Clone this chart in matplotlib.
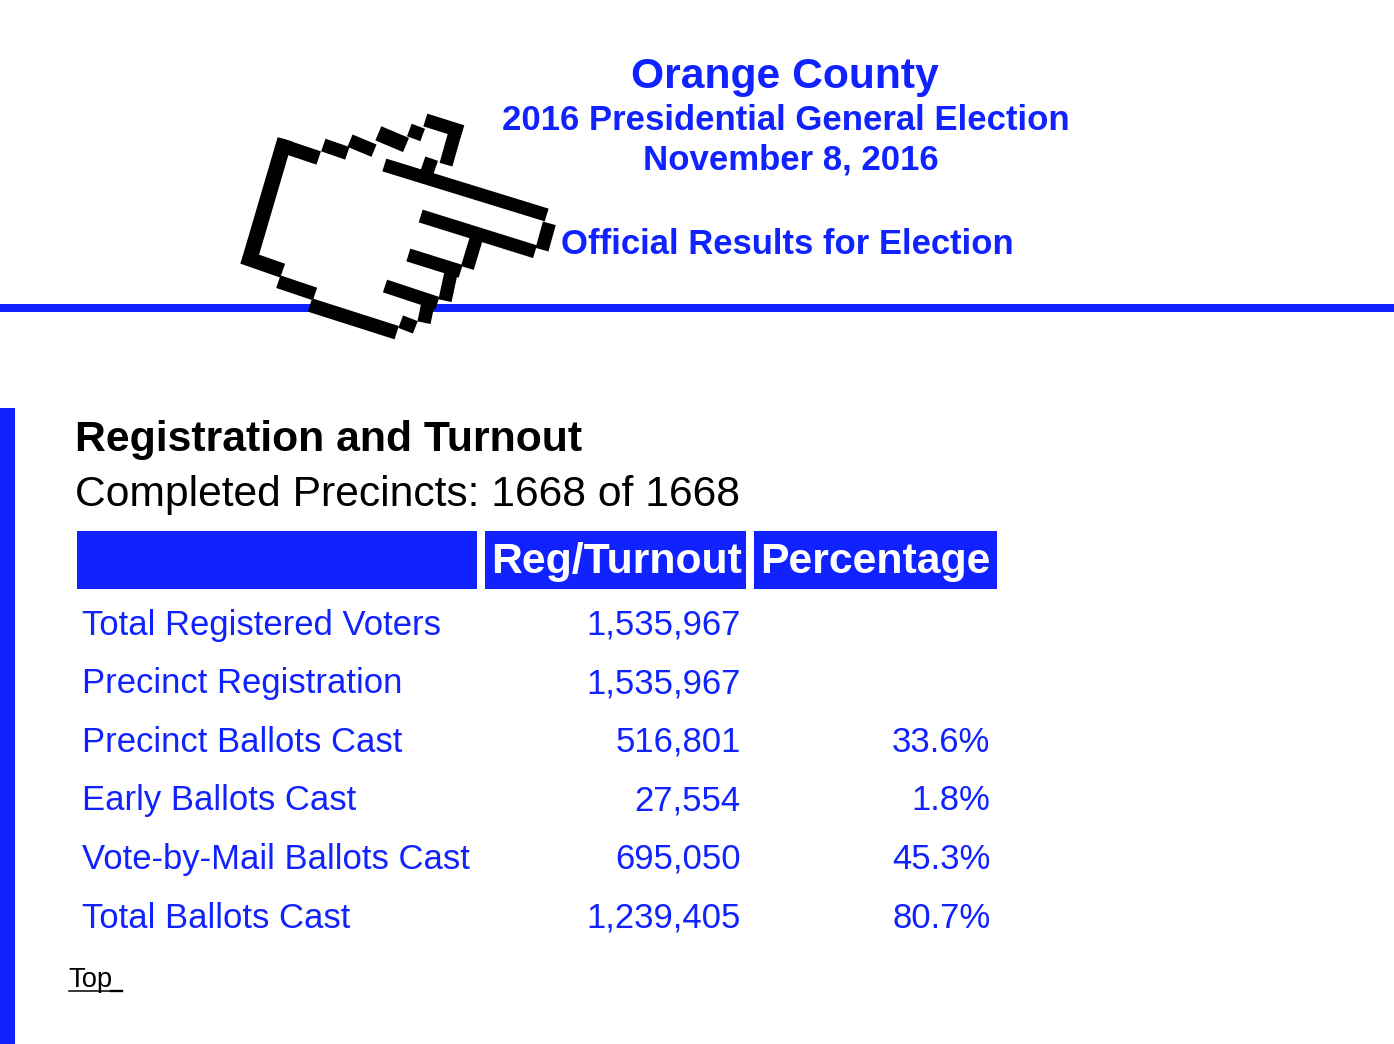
import matplotlib
matplotlib.use("Agg")
import matplotlib.pyplot as plt
from matplotlib.patches import Polygon, Rectangle

plt.rcParams["font.family"] = ["Liberation Sans", "DejaVu Sans"]

BLUE = "#1022FF"

row_labels = [
    "Total Registered Voters",
    "Precinct Registration",
    "Precinct Ballots Cast",
    "Early Ballots Cast",
    "Vote-by-Mail Ballots Cast",
    "Total Ballots Cast",
]
reg_turnout = ["1,535,967", "1,535,967", "516,801", "27,554", "695,050", "1,239,405"]
percentage = ["", "", "33.6%", "1.8%", "45.3%", "80.7%"]

# hand outline, coordinates taken from zoomed crop (crop px, offset added below)
hand_fill = [(160, 130), (280, 150), (450, 100), (590, 70), (680, 90), (640, 200),
             (950, 340), (960, 390), (920, 460), (750, 420), (650, 590), (620, 600), (600, 650),
             (490, 700), (245, 615), (150, 540), (50, 475)]
hand_lines = [
    ((150, 135), (266, 174), 42), ((165, 118), (58, 482), 46), ((38, 470), (158, 512), 44),
    ((145, 545), (255, 582), 40), ((240, 615), (500, 698), 42), ((512, 665), (556, 682), 40),
    ((598, 590), (582, 668), 40), ((465, 558), (622, 610), 40), ((668, 495), (645, 602), 40),
    ((535, 465), (692, 514), 40), ((738, 418), (712, 504), 40), ((572, 348), (915, 455), 40),
    ((958, 370), (936, 449), 40), ((463, 195), (950, 345), 40), ((605, 176), (588, 225), 40),
    ((680, 80), (648, 194), 40), ((586, 60), (697, 95), 40), ((538, 90), (578, 105), 40),
    ((445, 100), (528, 135), 46), ((360, 122), (432, 152), 40), ((280, 135), (352, 160), 40),
]


def to_px(pt):
    return 230 + pt[0] / 3, 100 + pt[1] / 3


fig = plt.figure(figsize=(13.94, 10.44), dpi=100)
ax = fig.add_axes([0, 0, 1, 1])
ax.set_xlim(0, 1394)
ax.set_ylim(1044, 0)
ax.axis("off")

# Header
ax.text(785, 77, "Orange County", color=BLUE, fontsize=30.7, fontweight="bold", ha="center", va="center")
ax.text(786, 120, "2016 Presidential General Election", color=BLUE, fontsize=25, fontweight="bold", ha="center", va="center")
ax.text(791, 160, "November 8, 2016", color=BLUE, fontsize=25, fontweight="bold", ha="center", va="center")
ax.text(561, 244, "Official Results for Election", color=BLUE, fontsize=24.9, fontweight="bold", ha="left", va="center")

ax.add_patch(Rectangle((0, 304), 1394, 8, color=BLUE, lw=0))
ax.add_patch(Rectangle((0, 408), 15, 636, color=BLUE, lw=0))

# Hand
ax.add_patch(Polygon([to_px(p) for p in hand_fill], closed=True, color="white", lw=0, zorder=3))
for a, b, w in hand_lines:
    xa, ya = to_px(a)
    xb, yb = to_px(b)
    ax.plot([xa, xb], [ya, yb], color="black", lw=w / 3 * 0.72, solid_capstyle="butt", zorder=4)

# Table
ax.text(75, 440, "Registration and Turnout", color="black", fontsize=30.75, fontweight="bold", ha="left", va="center")
ax.text(75, 495, "Completed Precincts: 1668 of 1668", color="black", fontsize=30.7, ha="left", va="center")

ax.add_patch(Rectangle((77, 531), 400, 58, color=BLUE, lw=0))
ax.add_patch(Rectangle((485, 531), 261, 58, color=BLUE, lw=0))
ax.add_patch(Rectangle((754, 531), 243, 58, color=BLUE, lw=0))
ax.text(491, 562, "Reg/Turnout", color="white", fontsize=30.75, fontweight="bold", ha="left", va="center")
ax.text(760, 562, "Percentage", color="white", fontsize=30.75, fontweight="bold", ha="left", va="center")

for i, label in enumerate(row_labels):
    y = 625 + i * 58.6
    ax.text(82, y, label, color=BLUE, fontsize=24.9, ha="left", va="center")
    ax.text(740.5, y, reg_turnout[i], color=BLUE, fontsize=24.9, ha="right", va="center")
    if percentage[i]:
        ax.text(990.5, y, percentage[i], color=BLUE, fontsize=24.9, ha="right", va="center")

ax.text(68.5, 980, "Top", color="black", fontsize=19.7, ha="left", va="center")
ax.plot([69, 111], [991, 991], color="black", lw=1.1)
ax.plot([111, 122], [991, 991], color="black", lw=1.7)

fig.savefig("out.png", dpi=100, facecolor="white")
